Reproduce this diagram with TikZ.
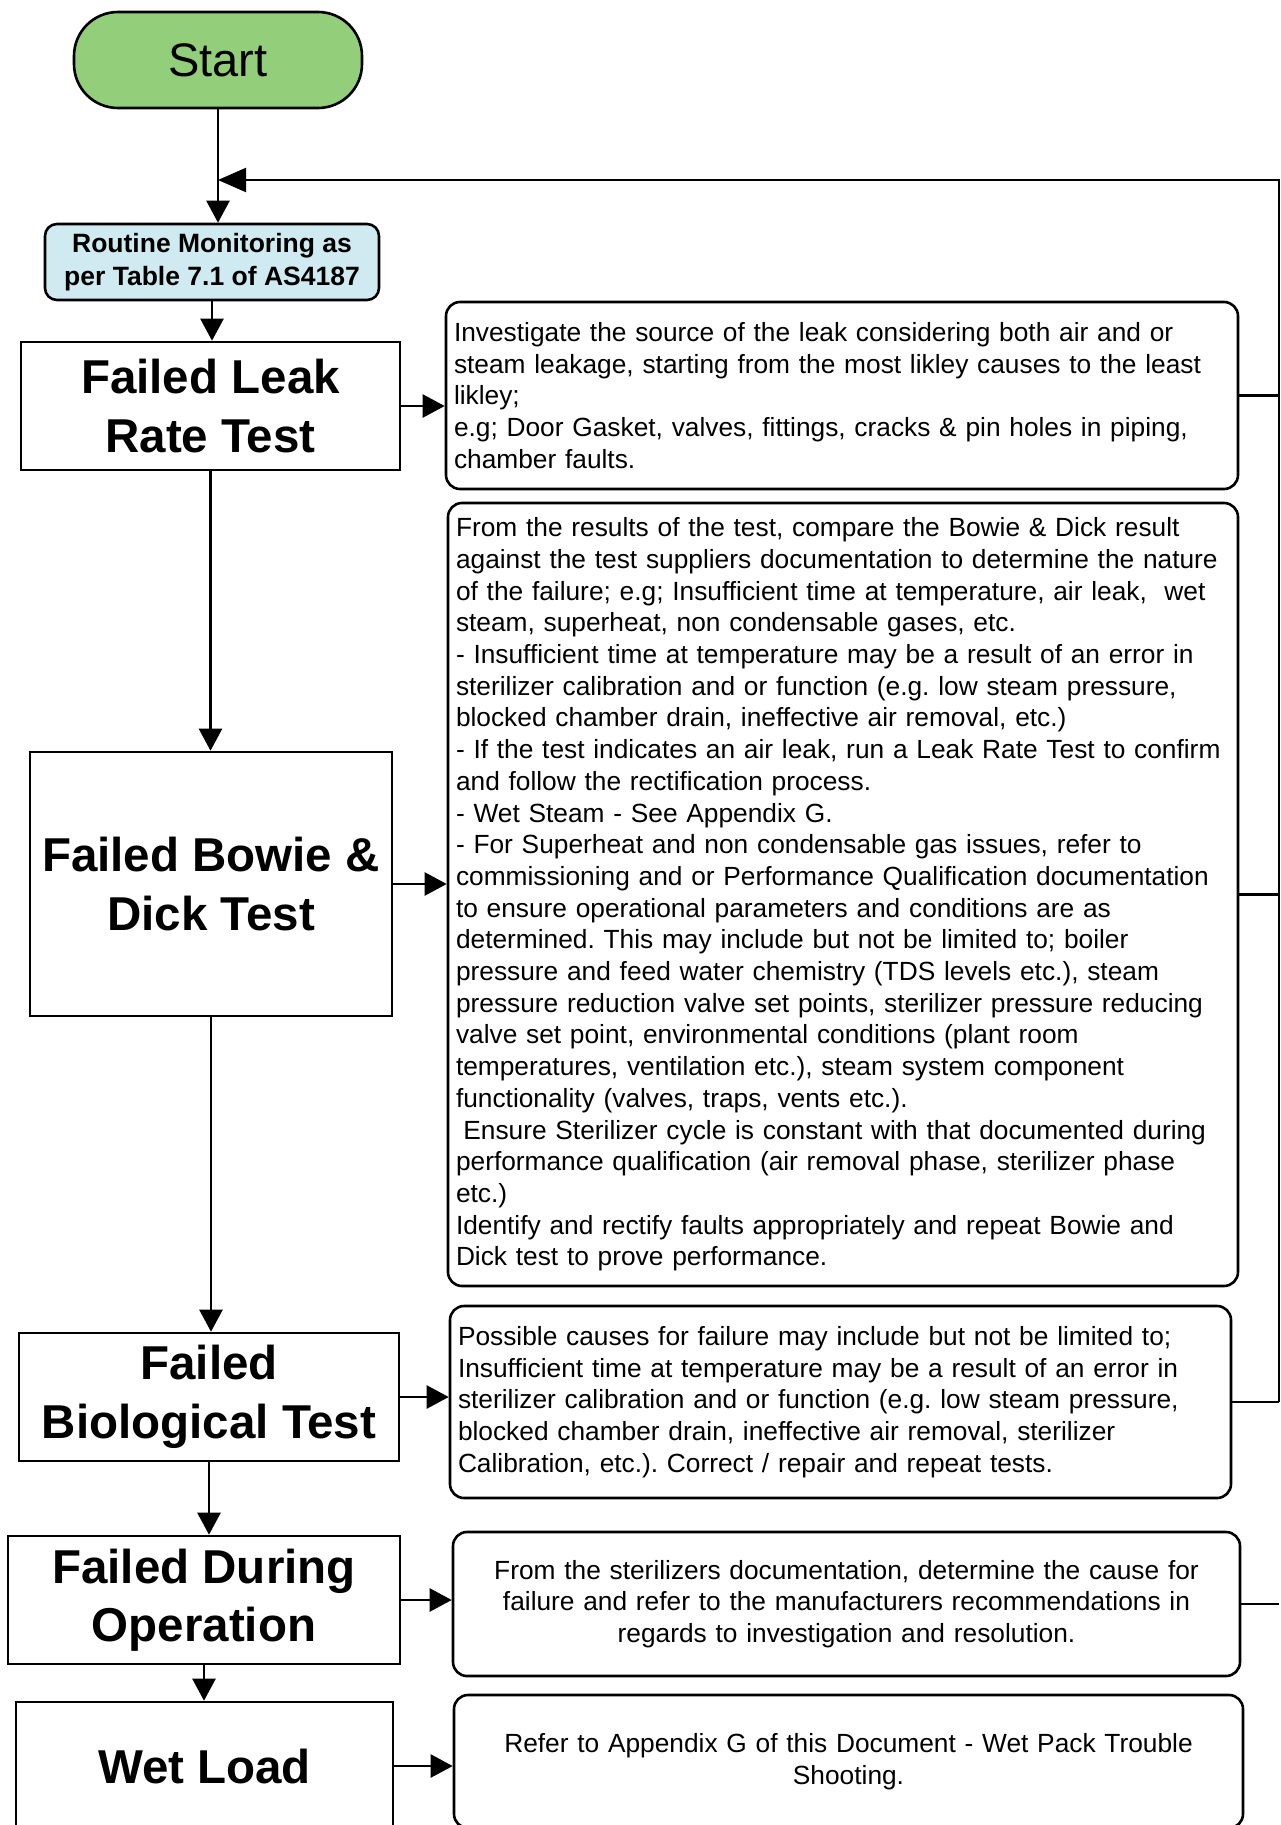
\documentclass[tikz,border=0pt]{standalone}
\usepackage{fontspec}
\setmainfont{Liberation Sans}
\usetikzlibrary{arrows.meta}
\frenchspacing
\definecolor{startgreen}{RGB}{147,206,122}
\definecolor{routineblue}{RGB}{207,234,240}
\newcommand{\bodyfont}{\fontsize{26.3}{31.7}\selectfont}
\newcommand{\headfont}{\fontsize{47.5}{58.5}\selectfont\bfseries}

\begin{document}
\begin{tikzpicture}[x=1pt,y=-1pt,
	stepbox/.style={draw,line width=2.6pt,minimum width=#1,minimum height=128pt,inner sep=0pt,align=center,font=\headfont},
	notebox/.style={draw,line width=2.6pt,rounded corners=14pt,inner xsep=8pt,inner ysep=0pt,align=left,font=\bodyfont},
	link/.style={line width=2.4pt,-{Triangle[length=22pt,width=23pt]}},
	rail/.style={line width=2.2pt}]

	\useasboundingbox (0,0) rectangle (1280,1825);
	\clip (0,0) rectangle (1280,1825);

	% Start
	\node[draw,line width=2.6pt,fill=startgreen,rounded corners=44pt,minimum width=288pt,minimum height=96pt,font=\fontsize{47}{56}\selectfont] (start) at (218,60) {Start};

	% Routine monitoring
	\node[draw,line width=2.6pt,fill=routineblue,rounded corners=12pt,minimum width=334pt,minimum height=76pt,inner sep=0pt,align=center,font=\fontsize{26.5}{32.5}\selectfont\bfseries] (routine) at (212,262) {Routine Monitoring as\\per Table 7.1 of AS4187};

	%---------------------
	% failure steps
	%---------------------
	\node[stepbox=379pt] (leak) at (210.5,406) {Failed Leak\\Rate Test};
	\node[stepbox=362pt,minimum height=264pt] (bowie) at (211,884) {Failed Bowie \&\\Dick Test};
	\node[stepbox=380pt] (bio) at (209,1397) {Failed\\Biological Test};
	\node[stepbox=392pt] (oper) at (204,1600) {Failed During\\Operation};
	\node[stepbox=377pt] (wet) at (204.5,1766) {Wet Load};

	%---------------------
	% actions
	%---------------------
	\node[notebox,text width=776pt,minimum height=187pt] (leaktxt) at (842,395.5) {Investigate the source of the leak considering both air and or\\steam leakage, starting from the most likley causes to the least\\likley;\\e.g; Door Gasket, valves, fittings, cracks \& pin holes in piping,\\chamber faults.};

	\node[notebox,text width=774pt,minimum height=783pt] (bowietxt) at (843,894.5) {From the results of the test, compare the Bowie \& Dick result\\against the test suppliers documentation to determine the nature\\of the failure; e.g; Insufficient time at temperature, air leak, \ wet\\steam, superheat, non condensable gases, etc.\\- Insufficient time at temperature may be a result of an error in\\sterilizer calibration and or function (e.g. low steam pressure,\\blocked chamber drain, ineffective air removal, etc.)\\- If the test indicates an air leak, run a Leak Rate Test to confirm\\and follow the rectification process.\\- Wet Steam - See Appendix G.\\- For Superheat and non condensable gas issues, refer to\\commissioning and or Performance Qualification documentation\\to ensure operational parameters and conditions are as\\determined. This may include but not be limited to; boiler\\pressure and feed water chemistry (TDS levels etc.), steam\\pressure reduction valve set points, sterilizer pressure reducing\\valve set point, environmental conditions (plant room\\temperatures, ventilation etc.), steam system component\\functionality (valves, traps, vents etc.).\\\hspace*{0.28em}Ensure Sterilizer cycle is constant with that documented during\\performance qualification (air removal phase, sterilizer phase\\etc.)\\Identify and rectify faults appropriately and repeat Bowie and\\Dick test to prove performance.};

	\node[notebox,text width=765pt,minimum height=192pt] (biotxt) at (840.5,1402) {Possible causes for failure may include but not be limited to;\\Insufficient time at temperature may be a result of an error in\\sterilizer calibration and or function (e.g. low steam pressure,\\blocked chamber drain, ineffective air removal, sterilizer\\Calibration, etc.). Correct / repair and repeat tests.};

	\node[notebox,text width=771pt,minimum height=144pt,align=center] (opertxt) at (846.5,1604) {From the sterilizers documentation, determine the cause for\\failure and refer to the manufacturers recommendations in\\regards to investigation and resolution.};

	\node[notebox,text width=773pt,minimum height=133pt,align=center] (wettxt) at (848.5,1761.5) {Refer to Appendix G of this Document - Wet Pack Trouble\\Shooting.};

	% main flow
	\draw[link] (start.south) -- (start.south |- routine.north);
	\draw[link] (routine.south) -- (routine.south |- leak.north);
	\draw[link] (leak.south) -- (leak.south |- bowie.north);
	\draw[link] (bowie.south) -- (bowie.south |- bio.north);
	\draw[link] (bio.south) -- (bio.south |- oper.north);
	\draw[link] (oper.south) -- (oper.south |- wet.north);

	% to actions
	\draw[link] (leak.east) -- (leak.east -| leaktxt.west);
	\draw[link] (bowie.east) -- (bowie.east -| bowietxt.west);
	\draw[link] (bio.east) -- (bio.east -| biotxt.west);
	\draw[link] (oper.east) -- (oper.east -| opertxt.west);
	\draw[link] (wet.east) -- (wet.east -| wettxt.west);

	% back to monitoring
	\coordinate (railtop) at (1279,180);
	\coordinate (join) at (start.south |- railtop);
	\draw[rail] (leaktxt.east) -- (leaktxt.east -| railtop);
	\draw[rail] (bowietxt.east) -- (bowietxt.east -| railtop);
	\draw[rail] (biotxt.east) -- (biotxt.east -| railtop);
	\draw[rail] (opertxt.east) -- (opertxt.east -| railtop);
	\draw[rail,-{Triangle[length=28pt,width=24pt]}] (biotxt.east -| railtop) -- (railtop) -- (join);

\end{tikzpicture}
\end{document}
